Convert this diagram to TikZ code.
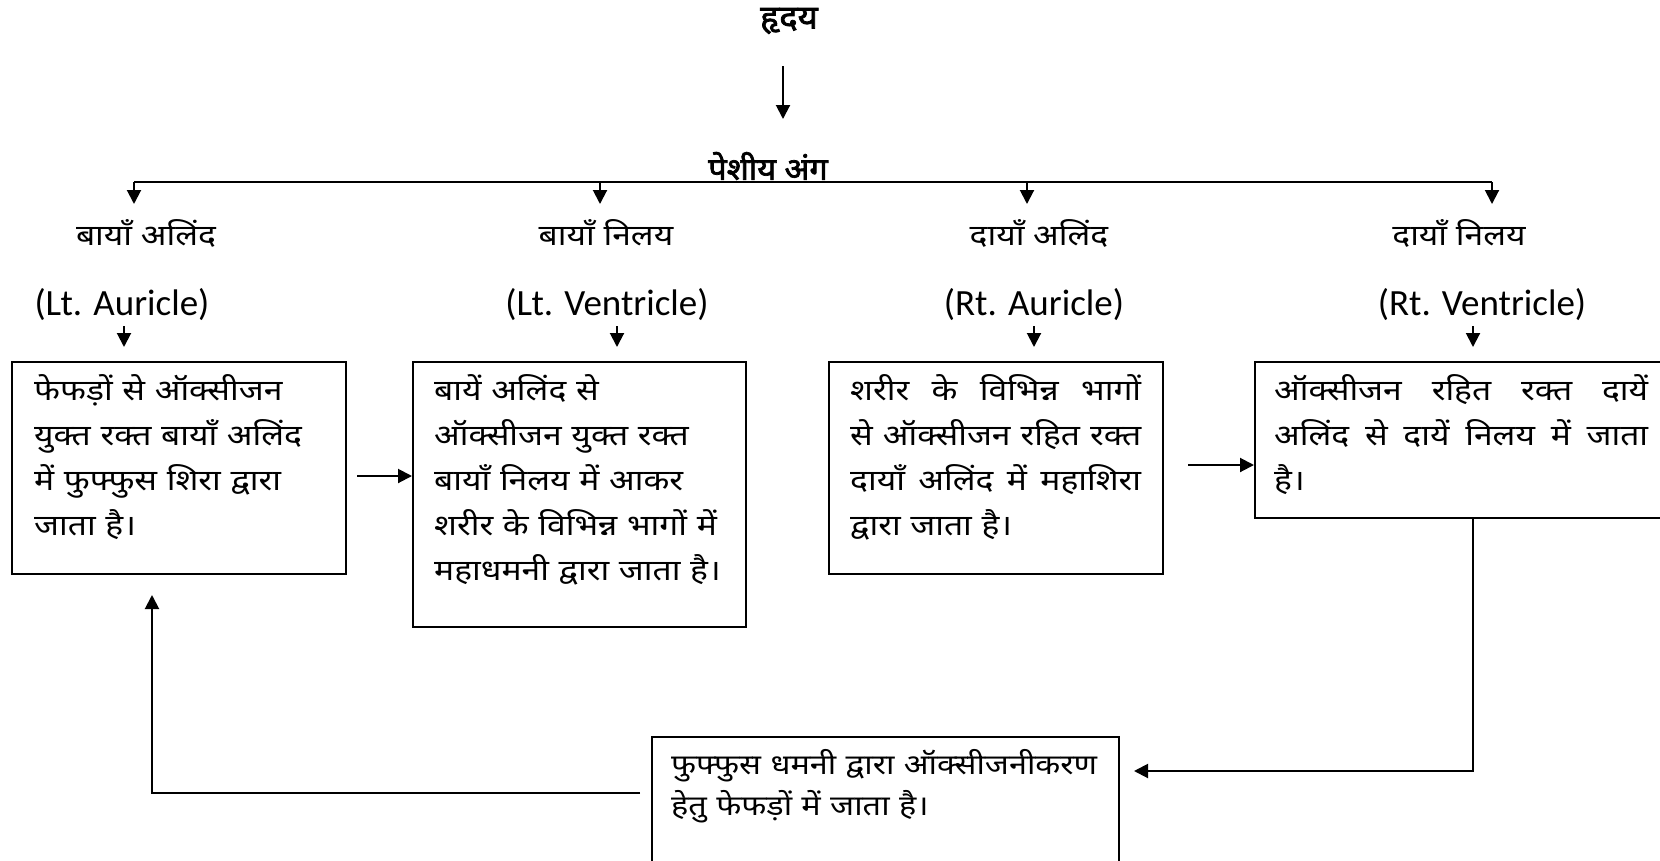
\documentclass[tikz,border=0pt]{standalone}
\usepackage{fontspec}
\setmainfont{Carlito}
\newfontfamily\dev[Script=Devanagari,FakeStretch=1.16]{Noto Sans}
\newfontfamily\devbold[Script=Devanagari,FakeStretch=1.05,FakeBold=2.2]{Noto Sans}
\usetikzlibrary{arrows.meta}
\tikzset{
  arr/.style={-{Triangle[length=14pt,width=14pt]}, line width=2pt},
  bar/.style={line width=2.2pt},
  boxframe/.style={draw, line width=2pt, inner sep=0pt, anchor=north west},
  head/.style={font=\devbold\fontsize{31}{36}\selectfont},
  part/.style={font=\dev\fontsize{29}{34}\selectfont},
  eng/.style={font=\fontsize{37}{42}\selectfont},
  boxtext/.style={anchor=north west, inner sep=0pt, align=left,
    font=\dev\fontsize{29}{45}\selectfont},
}
% a line whose words are spread over the given width
\newcommand{\jl}[2]{\leavevmode\hbox to #1{#2}}
\begin{document}
\begin{tikzpicture}[x=1pt,y=-1pt]
\useasboundingbox (0,0) rectangle (1660,860);

% title and trunk
\node[head,font=\devbold\fontsize{33}{38}\selectfont] (heart) at (789,21) {हृदय};
\coordinate (trunkTop) at (783,66);
\node[head] (muscle) at (768,166) {पेशीय अंग};
\draw[arr] (trunkTop) -- (783,119) coordinate (trunkEnd);

% branching bar
\coordinate (barL) at (134,182);
\coordinate (barR) at (1492,182);
\draw[bar] (barL) -- (barR);

% chamber names
\node[part] (la) at (146,233) {बायाँ अलिंद};
\node[part] (lv) at (606,233) {बायाँ निलय};
\node[part] (ra) at (1039,233) {दायाँ अलिंद};
\node[part] (rv) at (1459,233) {दायाँ निलय};

\node[eng] (laE) at (122,305) {(Lt. Auricle)};
\node[eng] (lvE) at (607,305) {(Lt. Ventricle)};
\node[eng] (raE) at (1034,305) {(Rt. Auricle)};
\node[eng] (rvE) at (1482,305) {(Rt. Ventricle)};

\foreach \x in {134,600,1027,1492}
  \draw[arr] (\x,182) -- (\x,204);

% boxes
\node[boxframe, minimum width=334pt, minimum height=212pt] (b1) at (11,361) {};
\node[boxframe, minimum width=333pt, minimum height=265pt] (b2) at (412,361) {};
\node[boxframe, minimum width=334pt, minimum height=212pt] (b3) at (828,361) {};
\node[boxframe, minimum width=420pt, minimum height=156pt] (b4) at (1254,361) {};
\node[boxframe, minimum width=467pt, minimum height=140pt] (b5) at (651,736) {};

\foreach \x in {124,617,1034,1473}
  \draw[arr] (\x,326) -- (\x,347);

% box texts
\node[boxtext, text width=300pt] (t1) at ([xshift=23pt,yshift=-13pt]b1.north west)
  {फेफड़ों से ऑक्सीजन\\ युक्त रक्त बायाँ अलिंद\\ में फुफ्फुस शिरा द्वारा\\ जाता है।};
\node[boxtext, text width=305pt] (t2) at ([xshift=22pt,yshift=-13pt]b2.north west)
  {बायें अलिंद से\\ ऑक्सीजन युक्त रक्त\\ बायाँ निलय में आकर\\ शरीर के विभिन्न भागों में\\ महाधमनी द्वारा जाता है।};
\node[boxtext, text width=291pt] (t3) at ([xshift=22pt,yshift=-13pt]b3.north west)
  {\jl{291pt}{शरीर \hfill के \hfill विभिन्न \hfill भागों}\\
   \jl{291pt}{से \hfill ऑक्सीजन \hfill रहित \hfill रक्त}\\
   \jl{291pt}{दायाँ \hfill अलिंद \hfill में \hfill महाशिरा}\\
   द्वारा जाता है।};
\node[boxtext, text width=374pt] (t4) at ([xshift=20pt,yshift=-13pt]b4.north west)
  {\jl{374pt}{ऑक्सीजन \hfill रहित \hfill रक्त \hfill दायें}\\
   \jl{374pt}{अलिंद \hfill से \hfill दायें \hfill निलय \hfill में \hfill जाता}\\
   है।};
\node[boxtext, text width=440pt, font=\dev\fontsize{28}{41}\selectfont] (t5) at ([xshift=20pt,yshift=-13pt]b5.north west)
  {फुफ्फुस धमनी द्वारा ऑक्सीजनीकरण\\ हेतु फेफड़ों में जाता है।};

% circulation connectors
\draw[arr] ([xshift=10pt]b1.east |- 0,476) -- (b2.west |- 0,476);
\draw[arr] ([xshift=24pt]b3.east |- 0,465) -- (b4.west |- 0,465);
\coordinate (turnR) at (1473,771);
\draw[arr] (b4.south -| 1473,0) -- (turnR) -- ([xshift=14pt]b5.east |- turnR);
\coordinate (turnL) at (152,793);
\draw[arr] ([xshift=-11pt]b5.west |- turnL) -- (turnL) -- ([yshift=-20pt]b1.south -| turnL);
\end{tikzpicture}
\end{document}
